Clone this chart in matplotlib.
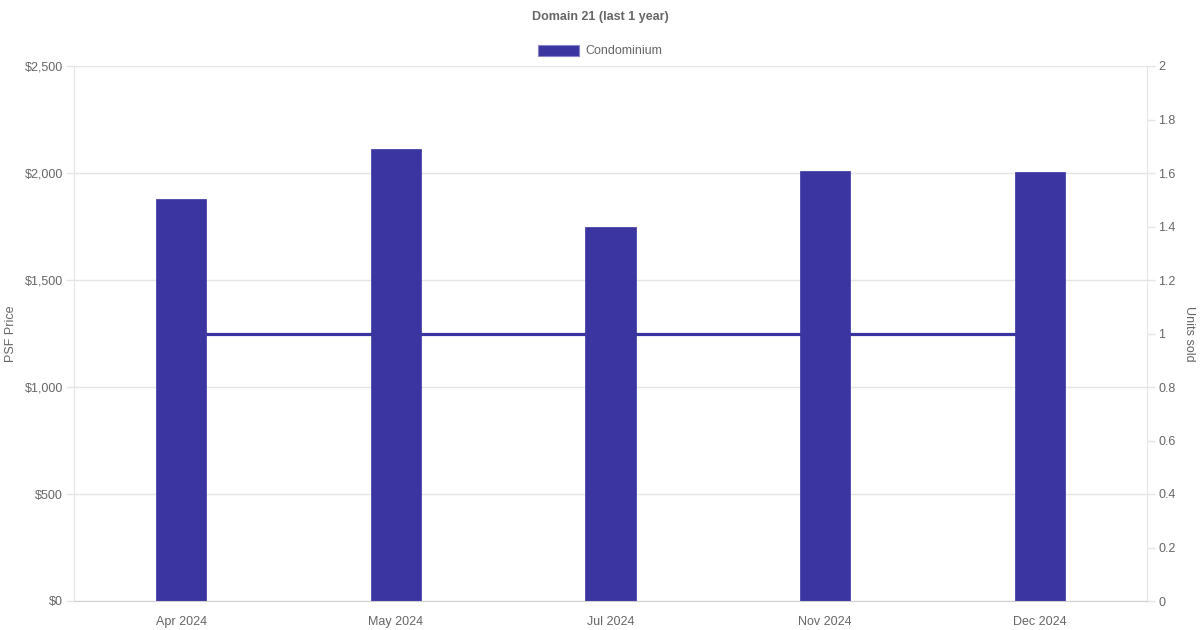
import matplotlib.pyplot as plt
from matplotlib.patches import Patch

plt.rcParams['font.family'] = ['Liberation Sans', 'DejaVu Sans']

# data
months = ['Apr 2024', 'May 2024', 'Jul 2024', 'Nov 2024', 'Dec 2024']
psf_price = [1878, 2112, 1748, 2009, 2005]
units_sold = [1, 1, 1, 1, 1]

bar_color = '#3a35a0'
text_color = '#666666'
grid_color = '#e5e5e5'

fig = plt.figure(figsize=(12, 6.3), dpi=100)
ax = fig.add_axes([74 / 1200, 1 - 601 / 630, (1147 - 74) / 1200, (601 - 66) / 630])
ax2 = ax.twinx()

# bars drawn above the line
ax.set_zorder(2)
ax2.set_zorder(1)
ax.patch.set_visible(False)

x = list(range(len(months)))
ax.bar(x, psf_price, width=0.233, color=bar_color, edgecolor=bar_color, linewidth=0.5)
ax2.plot(x, units_sold, color=bar_color, linewidth=2.3)

ax.set_xlim(-0.5, len(months) - 0.5)
ax.set_ylim(0, 2500)
ax2.set_ylim(0, 2)

ax.set_yticks([0, 500, 1000, 1500, 2000, 2500])
ax.set_yticklabels(['$0', '$500', '$1,000', '$1,500', '$2,000', '$2,500'])
ax2.set_yticks([0, 0.2, 0.4, 0.6, 0.8, 1, 1.2, 1.4, 1.6, 1.8, 2])
ax2.set_yticklabels(['0', '0.2', '0.4', '0.6', '0.8', '1', '1.2', '1.4', '1.6', '1.8', '2'])
ax.set_xticks(x)
ax.set_xticklabels(months)

ax.yaxis.grid(True, color=grid_color, linewidth=1)
ax.set_axisbelow(True)

for a in (ax, ax2):
    for s in a.spines.values():
        s.set_visible(False)
    a.tick_params(colors=text_color, labelsize=9, length=5.8, width=1, pad=2.2)
    a.tick_params(axis='y', color=grid_color)
ax.tick_params(axis='x', length=0, pad=10.5)

ax.spines['left'].set_visible(True)
ax.spines['left'].set_color(grid_color)
ax.spines['bottom'].set_visible(True)
ax.spines['bottom'].set_color('#d0d0d0')
ax2.spines['right'].set_visible(True)
ax2.spines['right'].set_color(grid_color)

ax.set_ylabel('PSF Price', color=text_color, fontsize=9, va='center')
ax.yaxis.set_label_coords((11 - 74) / 1073, 0.5)
ax2.set_ylabel('Units sold', color=text_color, fontsize=9, rotation=270, va='center')
ax2.yaxis.set_label_coords((1189 - 74) / 1073, 0.5)

fig.text(0.5, 1 - 17 / 630, 'Domain 21 (last 1 year)', ha='center', va='center',
         color=text_color, fontsize=9, fontweight='bold')

handle = Patch(facecolor=bar_color, edgecolor='#8a86cc', linewidth=0.8)
fig.legend([handle], ['Condominium'], loc='center', bbox_to_anchor=(0.5, 1 - 51 / 630),
           frameon=False, fontsize=9, labelcolor=text_color, handlelength=3.3,
           handleheight=1.0, handletextpad=0.5)

fig.savefig('out.png', dpi=100)
